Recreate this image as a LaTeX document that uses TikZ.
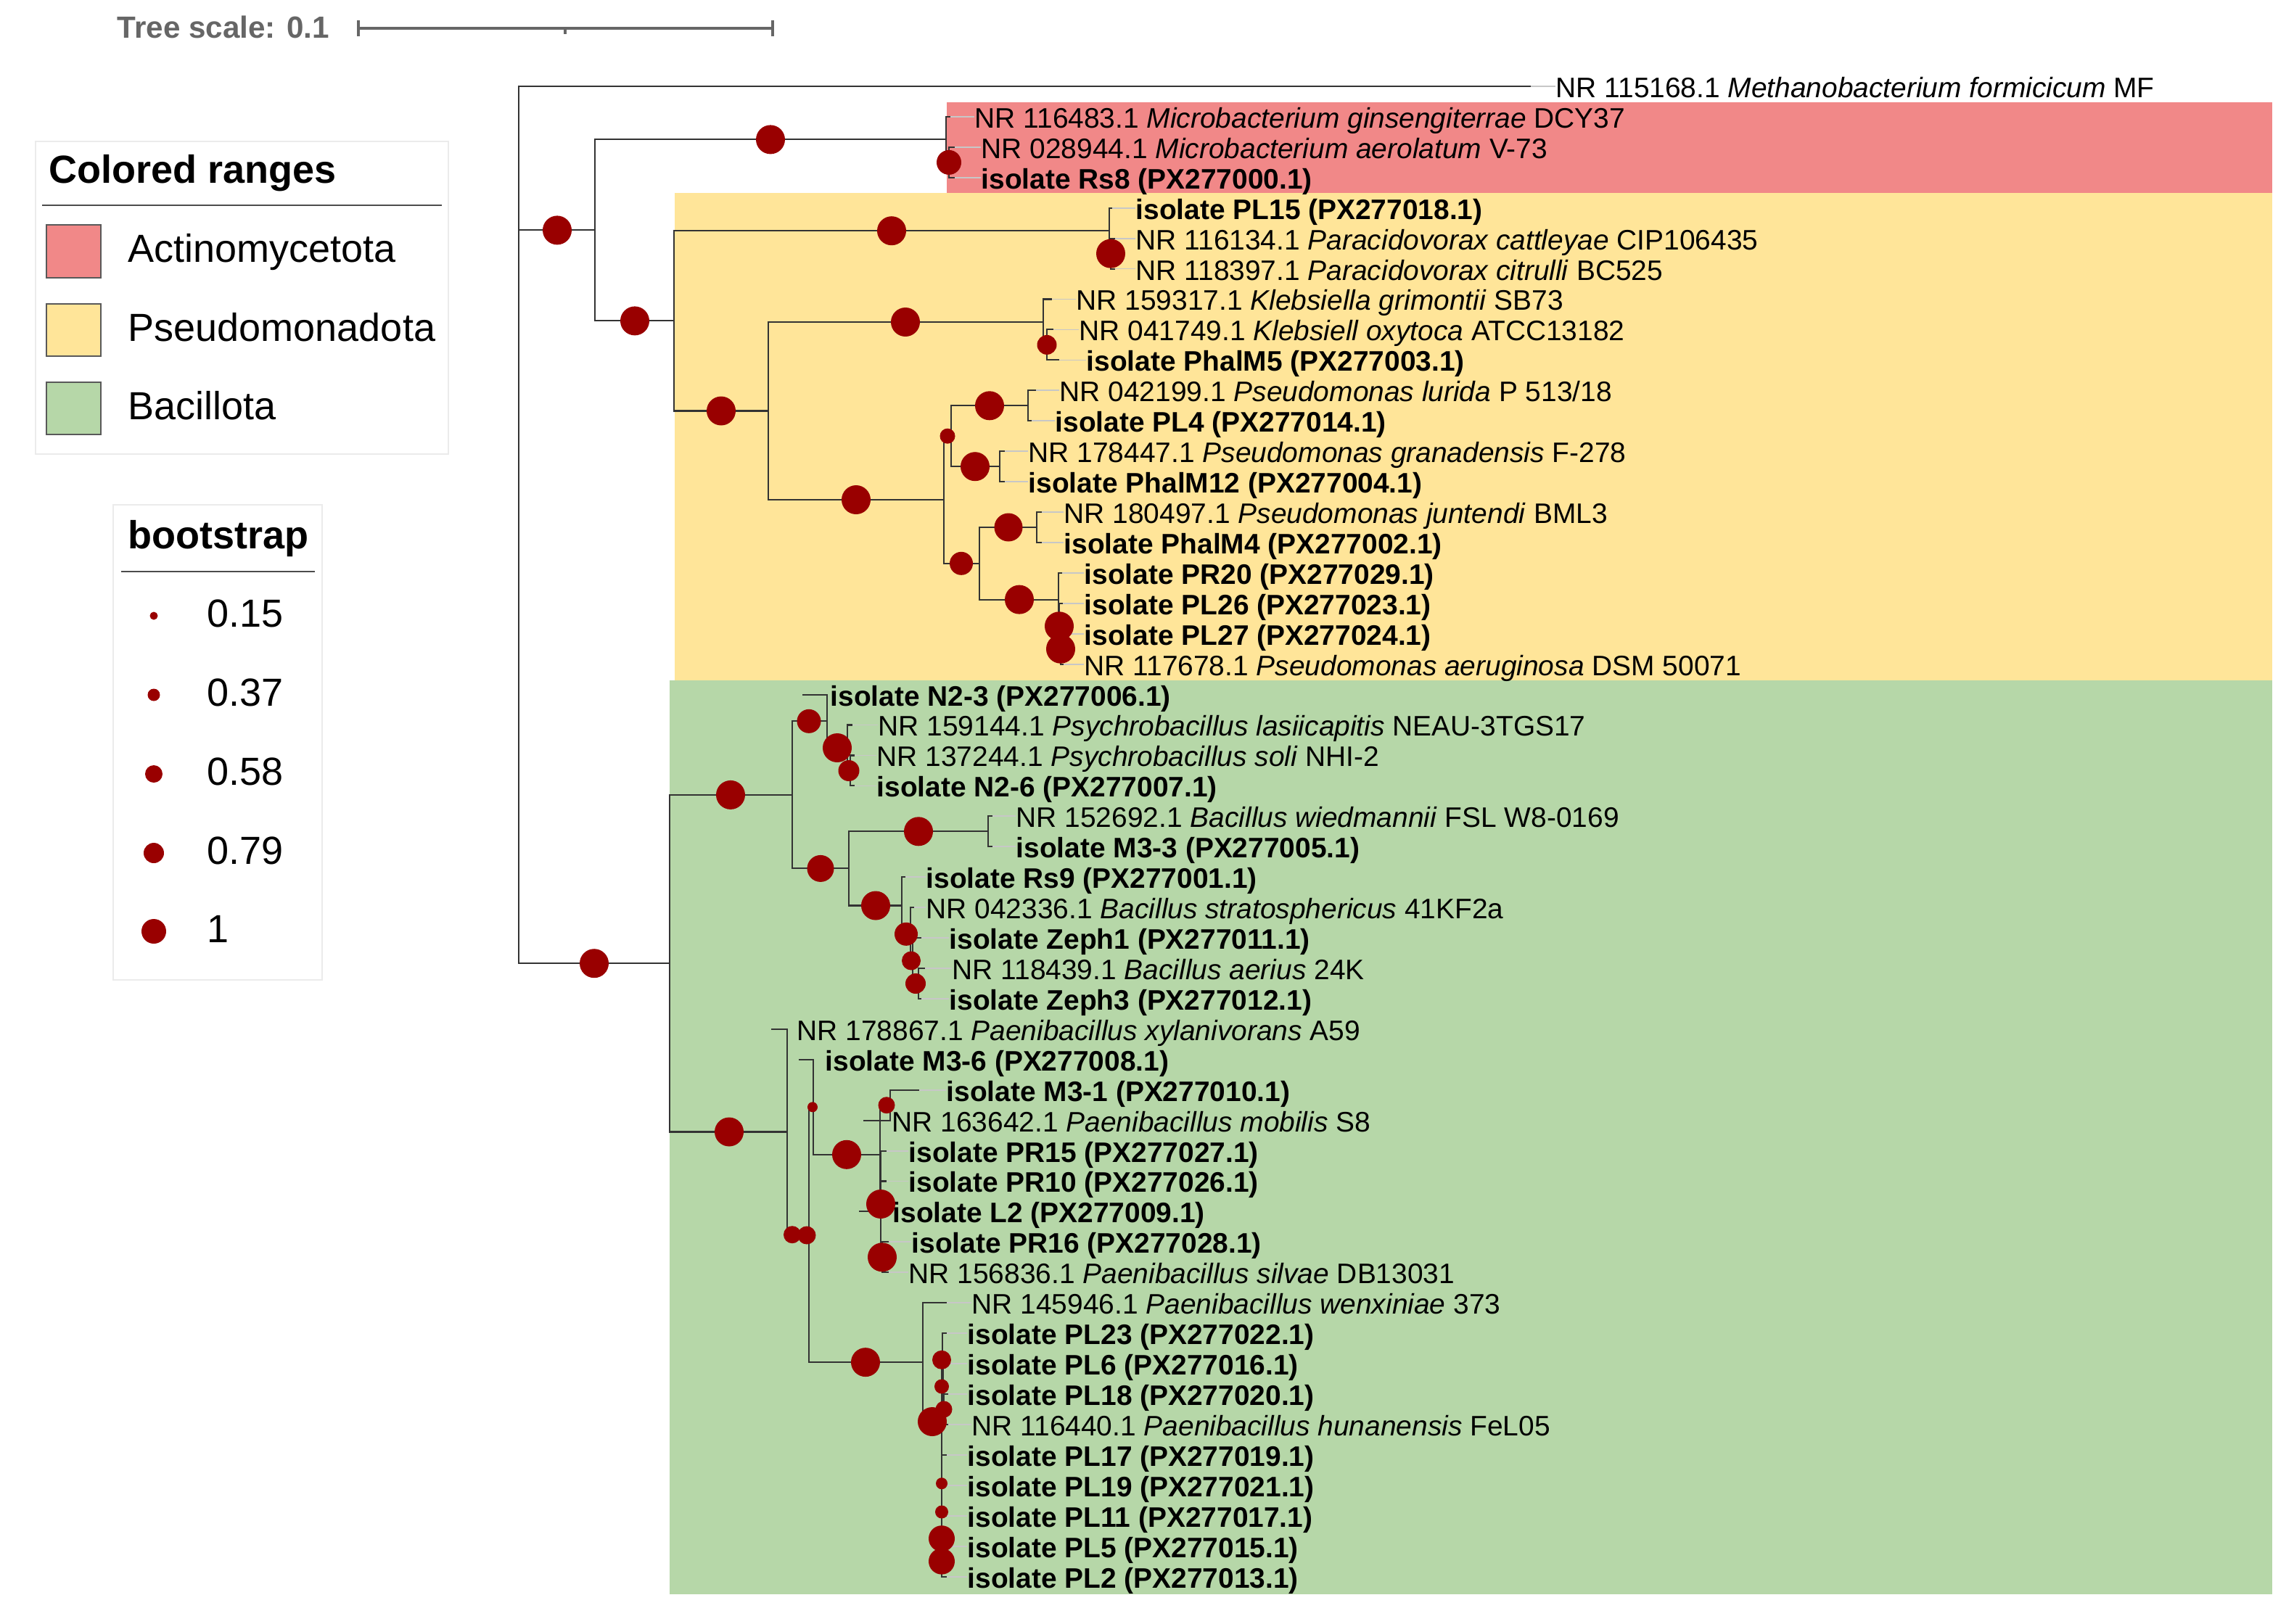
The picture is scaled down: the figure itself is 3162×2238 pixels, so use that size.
\documentclass[tikz,border=0pt]{standalone}
\usepackage{fontspec}
\setmainfont{Liberation Sans}
\usetikzlibrary{calc}
\definecolor{actino}{HTML}{F18888}
\definecolor{pseudo}{HTML}{FFE599}
\definecolor{bacil}{HTML}{B6D7A8}
\definecolor{bootred}{HTML}{990000}
\definecolor{inkgray}{HTML}{666666}
\definecolor{boxrule}{HTML}{EBEBEB}
\newcommand\refseq[3]{NR #1 \textit{#2} #3}
\newcommand\isolab[2]{\textbf{isolate #1 (#2)}}
\newcommand\bsdot[3]{\fill[boot] (#1,#2) circle[radius={#3*0.01cm}];}

\begin{document}
\begin{tikzpicture}[
    x=0.01cm, y=-0.01cm,
    font=\fontsize{11.06}{13.3}\selectfont,
    branch/.style={draw=black!80, line width=0.6pt},
    stub/.style={draw=black!22, line width=0.5pt},
    leaf/.style={anchor=west, inner sep=0pt, text height=0.88em, text depth=0pt},
    boot/.style={fill=bootred},
    legbox/.style={draw=boxrule, fill=white, line width=0.8pt},
    legrule/.style={draw=black!70, line width=0.7pt},
    legtext/.style={anchor=west, inner sep=0pt, text height=0.88em, text depth=0pt,
                    font=\fontsize{15.36}{18}\selectfont},
    swatch/.style={draw=black!65, line width=0.7pt},
    scalebar/.style={draw=inkgray, line width=0.9pt},
  ]
\fill[white] (0,0) rectangle (3162,2238);
\useasboundingbox (0,0) rectangle (3162,2238);

% colored ranges
\fill[actino] (1305,141) rectangle (3132,266);
\fill[pseudo] (930,266) rectangle (3132,938);
\fill[bacil] (923,938) rectangle (3132,2198);

% tree scale
\node[anchor=west, inner sep=0pt, text height=0.88em, text depth=0pt, text=inkgray,
      font=\fontsize{12}{14}\bfseries] (scaletxt) at (161,37) {Tree scale: 0.1};
\coordinate (sb0) at (494,39);
\coordinate (sb1) at (1065,39);
\coordinate (sbm) at (779,39);
\draw[scalebar] (sb0) -- (sb1);
\draw[scalebar] ($(sb0)+(0,-11)$) -- ($(sb0)+(0,11)$);
\draw[scalebar] ($(sb1)+(0,-11)$) -- ($(sb1)+(0,11)$);
\draw[scalebar] (sbm) -- ($(sbm)+(0,8)$);

% internal nodes
\coordinate (root) at (715,723);
\coordinate (nA) at (820,317.4);
\coordinate (nAct) at (1304,192.4);
\coordinate (nAct2) at (1308,223.9);
\coordinate (nB) at (929,442.4);
\coordinate (nPL15) at (1529,318.2);
\coordinate (nPar) at (1531,349.6);
\coordinate (nC) at (1059,566.5);
\coordinate (nKl) at (1438,444);
\coordinate (nKl2) at (1443,475.4);
\coordinate (nP) at (1301,689);
\coordinate (nQ) at (1311,601.2);
\coordinate (nPL4) at (1417,559.3);
\coordinate (nPM12) at (1378,643.2);
\coordinate (nR) at (1350,776.8);
\coordinate (nPM4) at (1429,727);
\coordinate (nS) at (1459,826.6);
\coordinate (nT) at (1460,863.3);
\coordinate (nU) at (1462,894.7);
\coordinate (nG) at (923,1328.2);
\coordinate (nH) at (1092,1095.9);
\coordinate (nI) at (1140,994.3);
\coordinate (nJ) at (1168,1031);
\coordinate (nL) at (1172,1062.5);
\coordinate (nK) at (1170,1197.4);
\coordinate (nM33) at (1362,1146.3);
\coordinate (nM) at (1243,1248.5);
\coordinate (nN) at (1255,1287.8);
\coordinate (nO) at (1258,1324.5);
\coordinate (nP2) at (1266,1356);
\coordinate (nPa) at (1085,1560.5);
\coordinate (nPb) at (1115,1702.2);
\coordinate (nPc) at (1121,1526.3);
\coordinate (nPd) at (1213,1591.8);
\coordinate (nPe) at (1227,1523.7);
\coordinate (nX) at (1214,1660);
\coordinate (nY) at (1216,1733.3);
\coordinate (nPLa) at (1272,1878.1);
\coordinate (nPLb) at (1298,1960);
\coordinate (nV3) at (1299,1874.8);
\coordinate (nV2) at (1300,1911.5);
\coordinate (nV1) at (1301,1943);
\coordinate (nW4) at (1298,2045.2);
\coordinate (nW3) at (1298,2084.5);
\coordinate (nW2) at (1298,2121.2);
\coordinate (nW1) at (1298,2152.6);

% leaves
\coordinate (t00) at (2110,119);    \node[leaf] (l00) at (2144,119) {\refseq{115168.1}{Methanobacterium formicicum}{MF}};
\coordinate (t01) at (1310,160.9);  \node[leaf] (l01) at (1343,160.9) {\refseq{116483.1}{Microbacterium ginsengiterrae}{DCY37}};
\coordinate (t02) at (1316,202.9);  \node[leaf] (l02) at (1352,202.9) {\refseq{028944.1}{Microbacterium aerolatum}{V-73}};
\coordinate (t03) at (1316,244.8);  \node[leaf] (l03) at (1352,244.8) {\isolab{Rs8}{PX277000.1}};
\coordinate (t04) at (1533,286.7);  \node[leaf] (l04) at (1565,286.7) {\isolab{PL15}{PX277018.1}};
\coordinate (t05) at (1537,328.7);  \node[leaf] (l05) at (1565,328.7) {\refseq{116134.1}{Paracidovorax cattleyae}{CIP106435}};
\coordinate (t06) at (1537,370.6);  \node[leaf] (l06) at (1565,370.6) {\refseq{118397.1}{Paracidovorax citrulli}{BC525}};
\coordinate (t07) at (1450,412.5);  \node[leaf] (l07) at (1483,412.5) {\refseq{159317.1}{Klebsiella grimontii}{SB73}};
\coordinate (t08) at (1452,454.4);  \node[leaf] (l08) at (1487,454.4) {\refseq{041749.1}{Klebsiell oxytoca}{ATCC13182}};
\coordinate (t09) at (1460,496.4);  \node[leaf] (l09) at (1497,496.4) {\isolab{PhalM5}{PX277003.1}};
\coordinate (t10) at (1428,538.3);  \node[leaf] (l10) at (1460,538.3) {\refseq{042199.1}{Pseudomonas lurida}{P 513/18}};
\coordinate (t11) at (1422,580.2);  \node[leaf] (l11) at (1454,580.2) {\isolab{PL4}{PX277014.1}};
\coordinate (t12) at (1385,622.2);  \node[leaf] (l12) at (1417,622.2) {\refseq{178447.1}{Pseudomonas granadensis}{F-278}};
\coordinate (t13) at (1385,664.1);  \node[leaf] (l13) at (1417,664.1) {\isolab{PhalM12}{PX277004.1}};
\coordinate (t14) at (1436,706);    \node[leaf] (l14) at (1466,706) {\refseq{180497.1}{Pseudomonas juntendi}{BML3}};
\coordinate (t15) at (1436,748);    \node[leaf] (l15) at (1466,748) {\isolab{PhalM4}{PX277002.1}};
\coordinate (t16) at (1464,789.9);  \node[leaf] (l16) at (1494,789.9) {\isolab{PR20}{PX277029.1}};
\coordinate (t17) at (1465,831.8);  \node[leaf] (l17) at (1494,831.8) {\isolab{PL26}{PX277023.1}};
\coordinate (t18) at (1466,873.7);  \node[leaf] (l18) at (1494,873.7) {\isolab{PL27}{PX277024.1}};
\coordinate (t19) at (1466,915.7);  \node[leaf] (l19) at (1494,915.7) {\refseq{117678.1}{Pseudomonas aeruginosa}{DSM 50071}};
\coordinate (t20) at (1106,957.6);  \node[leaf] (l20) at (1144,957.6) {\isolab{N2-3}{PX277006.1}};
\coordinate (t21) at (1175,999.5);  \node[leaf] (l21) at (1210,999.5) {\refseq{159144.1}{Psychrobacillus lasiicapitis}{NEAU-3TGS17}};
\coordinate (t22) at (1178,1041.5); \node[leaf] (l22) at (1208,1041.5) {\refseq{137244.1}{Psychrobacillus soli}{NHI-2}};
\coordinate (t23) at (1178,1083.4); \node[leaf] (l23) at (1208,1083.4) {\isolab{N2-6}{PX277007.1}};
\coordinate (t24) at (1368,1125.3); \node[leaf] (l24) at (1400,1125.3) {\refseq{152692.1}{Bacillus wiedmannii}{FSL W8-0169}};
\coordinate (t25) at (1368,1167.3); \node[leaf] (l25) at (1400,1167.3) {\isolab{M3-3}{PX277005.1}};
\coordinate (t26) at (1248,1209.2); \node[leaf] (l26) at (1276,1209.2) {\isolab{Rs9}{PX277001.1}};
\coordinate (t27) at (1260,1251.1); \node[leaf] (l27) at (1276,1251.1) {\refseq{042336.1}{Bacillus stratosphericus}{41KF2a}};
\coordinate (t28) at (1270,1293);   \node[leaf] (l28) at (1308,1293) {\isolab{Zeph1}{PX277011.1}};
\coordinate (t29) at (1275,1335);   \node[leaf] (l29) at (1312,1335) {\refseq{118439.1}{Bacillus aerius}{24K}};
\coordinate (t30) at (1270,1376.9); \node[leaf] (l30) at (1308,1376.9) {\isolab{Zeph3}{PX277012.1}};
\coordinate (t31) at (1063,1418.8); \node[leaf] (l31) at (1098,1418.8) {\refseq{178867.1}{Paenibacillus xylanivorans}{A59}};
\coordinate (t32) at (1101,1460.8); \node[leaf] (l32) at (1137,1460.8) {\isolab{M3-6}{PX277008.1}};
\coordinate (t33) at (1267,1502.7); \node[leaf] (l33) at (1304,1502.7) {\isolab{M3-1}{PX277010.1}};
\coordinate (t34) at (1190,1544.6); \node[leaf] (l34) at (1229,1544.6) {\refseq{163642.1}{Paenibacillus mobilis}{S8}};
\coordinate (t35) at (1222,1586.6); \node[leaf] (l35) at (1252,1586.6) {\isolab{PR15}{PX277027.1}};
\coordinate (t36) at (1222,1628.5); \node[leaf] (l36) at (1252,1628.5) {\isolab{PR10}{PX277026.1}};
\coordinate (t37) at (1184,1670.4); \node[leaf] (l37) at (1230,1670.4) {\isolab{L2}{PX277009.1}};
\coordinate (t38) at (1225,1712.3); \node[leaf] (l38) at (1256,1712.3) {\isolab{PR16}{PX277028.1}};
\coordinate (t39) at (1225,1754.3); \node[leaf] (l39) at (1252,1754.3) {\refseq{156836.1}{Paenibacillus silvae}{DB13031}};
\coordinate (t40) at (1305,1796.2); \node[leaf] (l40) at (1339,1796.2) {\refseq{145946.1}{Paenibacillus wenxiniae}{373}};
\coordinate (t41) at (1305,1838.1); \node[leaf] (l41) at (1333,1838.1) {\isolab{PL23}{PX277022.1}};
\coordinate (t42) at (1306,1880.1); \node[leaf] (l42) at (1333,1880.1) {\isolab{PL6}{PX277016.1}};
\coordinate (t43) at (1307,1922);   \node[leaf] (l43) at (1333,1922) {\isolab{PL18}{PX277020.1}};
\coordinate (t44) at (1307,1963.9); \node[leaf] (l44) at (1339,1963.9) {\refseq{116440.1}{Paenibacillus hunanensis}{FeL05}};
\coordinate (t45) at (1305,2005.9); \node[leaf] (l45) at (1333,2005.9) {\isolab{PL17}{PX277019.1}};
\coordinate (t46) at (1305,2047.8); \node[leaf] (l46) at (1333,2047.8) {\isolab{PL19}{PX277021.1}};
\coordinate (t47) at (1305,2089.7); \node[leaf] (l47) at (1333,2089.7) {\isolab{PL11}{PX277017.1}};
\coordinate (t48) at (1305,2131.6); \node[leaf] (l48) at (1333,2131.6) {\isolab{PL5}{PX277015.1}};
\coordinate (t49) at (1305,2173.6); \node[leaf] (l49) at (1333,2173.6) {\isolab{PL2}{PX277013.1}};

% stubs from tips to labels
\draw[stub] (t00) -- (l00.west) (t01) -- (l01.west) (t02) -- (l02.west) (t03) -- (l03.west)
  (t04) -- (l04.west) (t05) -- (l05.west) (t06) -- (l06.west) (t07) -- (l07.west)
  (t08) -- (l08.west) (t09) -- (l09.west) (t10) -- (l10.west) (t11) -- (l11.west)
  (t12) -- (l12.west) (t13) -- (l13.west) (t14) -- (l14.west) (t15) -- (l15.west)
  (t16) -- (l16.west) (t17) -- (l17.west) (t18) -- (l18.west) (t19) -- (l19.west)
  (t21) -- (l21.west) (t22) -- (l22.west) (t23) -- (l23.west) (t24) -- (l24.west)
  (t25) -- (l25.west) (t26) -- (l26.west) (t27) -- (l27.west) (t28) -- (l28.west)
  (t29) -- (l29.west) (t30) -- (l30.west) (t33) -- (l33.west) (t35) -- (l35.west)
  (t36) -- (l36.west) (t38) -- (l38.west) (t39) -- (l39.west) (t40) -- (l40.west)
  (t41) -- (l41.west) (t42) -- (l42.west) (t43) -- (l43.west) (t44) -- (l44.west)
  (t45) -- (l45.west) (t46) -- (l46.west) (t47) -- (l47.west) (t48) -- (l48.west)
  (t49) -- (l49.west);

% branches
\draw[branch] (root) |- (t00) (root) |- (nA) (root) |- (nG);
\draw[branch] (nA) |- (nAct) (nA) |- (nB);
\draw[branch] (nAct) |- (t01) (nAct) |- (nAct2) (nAct2) |- (t02) (nAct2) |- (t03);
\draw[branch] (nB) |- (nPL15) (nB) |- (nC);
\draw[branch] (nPL15) |- (t04) (nPL15) |- (nPar) (nPar) |- (t05) (nPar) |- (t06);
\draw[branch] (nC) |- (nKl) (nC) |- (nP);
\draw[branch] (nKl) |- (t07) (nKl) |- (nKl2) (nKl2) |- (t08) (nKl2) |- (t09);
\draw[branch] (nP) |- (nQ) (nP) |- (nR);
\draw[branch] (nQ) |- (nPL4) (nQ) |- (nPM12);
\draw[branch] (nPL4) |- (t10) (nPL4) |- (t11) (nPM12) |- (t12) (nPM12) |- (t13);
\draw[branch] (nR) |- (nPM4) (nR) |- (nS) (nPM4) |- (t14) (nPM4) |- (t15);
\draw[branch] (nS) |- (t16) (nS) |- (nT) (nT) |- (t17) (nT) |- (nU) (nU) |- (t18) (nU) |- (t19);
\draw[branch] (nG) |- (nH) (nG) |- (nPa);
\draw[branch] (nH) |- (nI) (nH) |- (nK);
\draw[branch] (nI) |- (t20) (nI) |- (nJ) (nJ) |- (t21) (nJ) |- (nL) (nL) |- (t22) (nL) |- (t23);
\draw[branch] (nK) |- (nM33) (nK) |- (nM) (nM33) |- (t24) (nM33) |- (t25);
\draw[branch] (nM) |- (t26) (nM) |- (nN) (nN) |- (t27) (nN) |- (nO);
\draw[branch] (nO) |- (t28) (nO) |- (nP2) (nP2) |- (t29) (nP2) |- (t30);
\draw[branch] (nPa) |- (t31) (nPa) |- (nPb);
\draw[branch] (nPb) |- (nPc) (nPb) |- (nPLa);
\draw[branch] (nPc) |- (t32) (nPc) |- (nPd);
\draw[branch] (nPd) |- (nPe) (nPd) |- (nX) (nPe) |- (t33) (nPe) |- (t34);
\draw[branch] (nX) |- (t35) (nX) |- (t36) (nX) |- (t37) (nX) |- (nY) (nY) |- (t38) (nY) |- (t39);
\draw[branch] (nPLa) |- (t40) (nPLa) |- (nPLb);
\draw[branch] (nPLb) |- (nV3) (nPLb) |- (nW4);
\draw[branch] (nV3) |- (t41) (nV3) |- (nV2) (nV2) |- (t42) (nV2) |- (nV1) (nV1) |- (t43) (nV1) |- (t44);
\draw[branch] (nW4) |- (t45) (nW4) |- (nW3) (nW3) |- (t46) (nW3) |- (nW2);
\draw[branch] (nW2) |- (t47) (nW2) |- (nW1) (nW1) |- (t48) (nW1) |- (t49);

% bootstrap symbols
\bsdot{768}{317.4}{20}
\bsdot{1062}{192.4}{20}
\bsdot{1308}{223.9}{17}
\bsdot{875}{442.4}{20}
\bsdot{1229}{318.2}{20}
\bsdot{1531}{349.6}{20}
\bsdot{994}{566.5}{20}
\bsdot{1248}{444}{20}
\bsdot{1443}{475.4}{13.5}
\bsdot{1180}{689}{20}
\bsdot{1306}{601.2}{10.5}
\bsdot{1364}{559.3}{20}
\bsdot{1344}{643.2}{20}
\bsdot{1325}{776.8}{16}
\bsdot{1390}{727}{19.5}
\bsdot{1405}{826.6}{20}
\bsdot{1460}{863.3}{20}
\bsdot{1462}{894.7}{20}
\bsdot{819}{1328.2}{20}
\bsdot{1007}{1095.9}{20}
\bsdot{1115}{994.3}{16.5}
\bsdot{1154}{1031}{20}
\bsdot{1170}{1062.5}{14.5}
\bsdot{1131}{1197.4}{18.5}
\bsdot{1266}{1146.3}{20}
\bsdot{1207}{1248.5}{20}
\bsdot{1249}{1287.8}{16}
\bsdot{1256}{1324.5}{13}
\bsdot{1262}{1356}{14}
\bsdot{1005}{1560.5}{20}
\bsdot{1092}{1702.2}{12}
\bsdot{1112}{1703}{12.5}
\bsdot{1120}{1526.3}{7}
\bsdot{1167}{1591.8}{20}
\bsdot{1222}{1523.7}{11.5}
\bsdot{1214}{1660}{20}
\bsdot{1216}{1733.3}{20}
\bsdot{1193}{1878.1}{20}
\bsdot{1285}{1960}{20}
\bsdot{1298}{1874.8}{13}
\bsdot{1298}{1911.5}{10}
\bsdot{1301}{1943}{11.5}
\bsdot{1298}{2045.2}{8}
\bsdot{1298}{2084.5}{9}
\bsdot{1298}{2121.2}{18}
\bsdot{1298}{2152.6}{18}

% legend: colored ranges
\draw[legbox] (49,195) rectangle (618,626);
\node[legtext, font=\fontsize{15.36}{18}\bfseries] (crtitle) at (67,237) {Colored ranges};
\draw[legrule] (58,283) -- (609,283);
\draw[swatch, fill=actino] (64,310) rectangle (139,383);
\draw[swatch, fill=pseudo] (64,419) rectangle (139,491);
\draw[swatch, fill=bacil] (64,527) rectangle (139,599);
\node[legtext] (crA) at (176,346) {Actinomycetota};
\node[legtext] (crP) at (176,455) {Pseudomonadota};
\node[legtext] (crB) at (176,563) {Bacillota};

% legend: bootstrap
\draw[legbox] (156,696) rectangle (444,1351);
\node[legtext, font=\fontsize{15.36}{18}\bfseries] (bstitle) at (176,741) {bootstrap};
\draw[legrule] (167,788) -- (434,788);
\bsdot{212}{849}{5.5}
\bsdot{212}{958}{8.5}
\bsdot{212}{1067}{12}
\bsdot{212}{1176}{14}
\bsdot{212}{1284}{17}
\node[legtext] (bs15) at (285,849) {0.15};
\node[legtext] (bs37) at (285,958) {0.37};
\node[legtext] (bs58) at (285,1067) {0.58};
\node[legtext] (bs79) at (285,1176) {0.79};
\node[legtext] (bs100) at (285,1284) {1};

\end{tikzpicture}
\end{document}
